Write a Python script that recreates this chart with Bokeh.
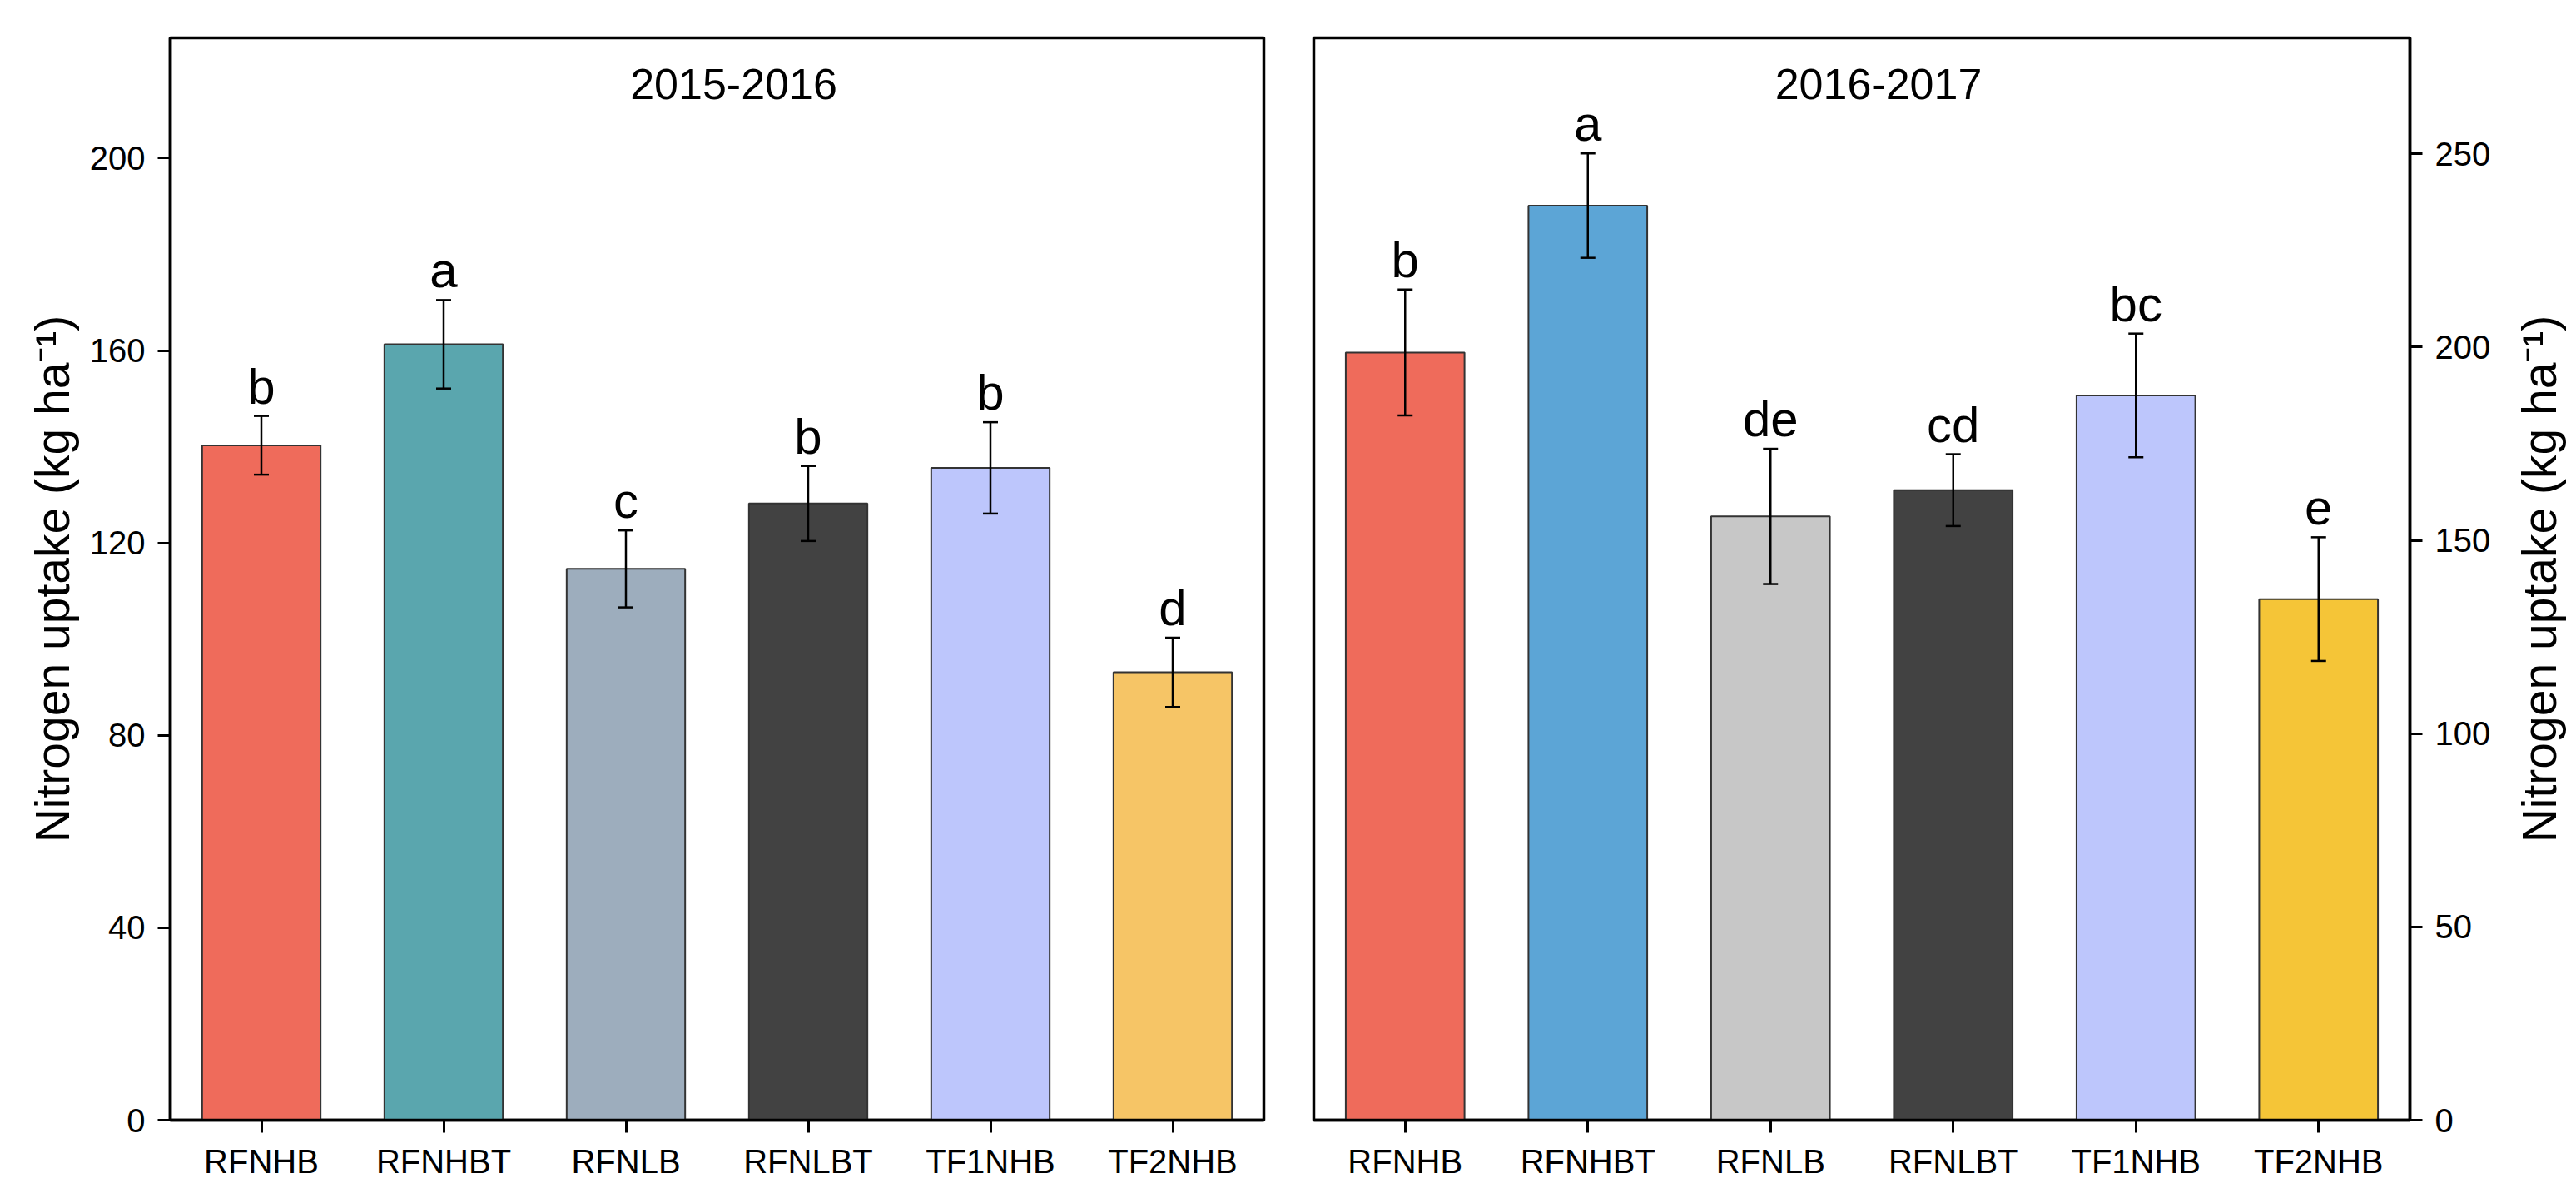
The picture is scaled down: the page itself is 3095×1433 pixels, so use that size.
import math
from bokeh.plotting import figure
from bokeh.layouts import row
from bokeh.models import (ColumnDataSource, Range1d, FactorRange, FixedTicker,
                          Whisker, TeeHead, LabelSet, Label)
from bokeh.core.properties import value
from bokeh.embed import file_html
from bokeh.resources import INLINE

# ---------------- data ----------------
categories = ["RFNHB", "RFNHBT", "RFNLB", "RFNLBT", "TF1NHB", "TF2NHB"]

uptake_2015 = [140.3, 161.3, 114.6, 128.2, 135.6, 93.1]
error_2015 = [6.1, 9.2, 8.0, 7.8, 9.5, 7.2]
letters_2015 = ["b", "a", "c", "b", "b", "d"]
colors_2015 = ["#EF6B5B", "#5AA6AE", "#9DADBD", "#424242", "#BDC6FC", "#F6C566"]

uptake_2016 = [198.6, 236.6, 156.2, 163.0, 187.5, 134.8]
error_2016 = [16.3, 13.5, 17.5, 9.3, 16.0, 16.0]
letters_2016 = ["b", "a", "de", "cd", "bc", "e"]
colors_2016 = ["#EF6B5B", "#5CA5D6", "#C7C7C7", "#424242", "#BDC6FC", "#F5C537"]

ticks_2015 = [0, 40, 80, 120, 160, 200]
ticks_2016 = [0, 50, 100, 150, 200, 250]
ymax_2015 = 225
ymax_2016 = 280

titles = ["2015-2016", "2016-2017"]
y_label = "Nitrogen uptake (kg ha\u207B\u00B9)"

FONT = "Liberation Sans"
FRAME_H = 1300
TOP = 45
BOTTOM = 80


def make_panel(title, vals, errs, letters, colors, ticks, ymax, side, frame_w,
               bl, br, with_label):
    src = ColumnDataSource(dict(
        cats=categories, vals=vals, colors=colors, letters=letters,
        upper=[v + e for v, e in zip(vals, errs)],
        lower=[v - e for v, e in zip(vals, errs)],
    ))
    p = figure(x_range=FactorRange(*categories, range_padding=0),
               y_range=Range1d(0, ymax),
               width=bl + frame_w + br, height=TOP + FRAME_H + BOTTOM,
               min_border_left=bl, min_border_right=br,
               min_border_top=TOP, min_border_bottom=BOTTOM,
               y_axis_location=side, toolbar_location=None,
               output_backend="svg")
    p.background_fill_color = "white"
    p.border_fill_color = "white"
    p.outline_line_color = "black"
    p.outline_line_width = 3.5
    p.xgrid.visible = False
    p.ygrid.visible = False

    p.vbar(x="cats", top="vals", width=0.65, bottom=0, fill_color="colors",
           line_color="#333333", line_width=2, source=src)

    w = Whisker(source=src, base="cats", upper="upper", lower="lower",
                line_color="black", line_width=2.5, level="overlay",
                upper_head=TeeHead(size=18, line_color="black", line_width=2.5),
                lower_head=TeeHead(size=18, line_color="black", line_width=2.5))
    p.add_layout(w)

    lab = LabelSet(source=src, x="cats", y="upper", text="letters",
                   y_offset=15, text_align="center", text_baseline="alphabetic",
                   text_font=value(FONT), text_font_size=value("60px"),
                   text_color=value("black"), level="overlay")
    p.add_layout(lab)

    p.add_layout(Label(x=frame_w / 2, y=FRAME_H - 55, x_units="screen",
                       y_units="screen", x_offset=20, text=title,
                       text_align="center", text_baseline="alphabetic",
                       text_font=FONT, text_font_size="52px",
                       text_color="black"))

    for ax in p.axis:
        ax.axis_line_width = 3.5
        ax.axis_line_color = "black"
        ax.major_tick_in = 0
        ax.major_tick_out = 15
        ax.major_tick_line_width = 3
        ax.major_tick_line_color = "black"
        ax.minor_tick_in = 0
        ax.minor_tick_out = 0
        ax.major_label_text_font = FONT
        ax.major_label_text_font_size = "40px"
        ax.major_label_text_color = "black"
        ax.major_label_standoff = 15
    p.yaxis.ticker = FixedTicker(ticks=ticks)
    p.xaxis.major_label_standoff = 12

    if with_label:
        yax = p.yaxis[0]
        yax.axis_label = y_label
        yax.axis_label_text_font = FONT
        yax.axis_label_text_font_size = "57px"
        yax.axis_label_text_font_style = "normal"
        yax.axis_label_text_color = "black"
        yax.axis_label_standoff = 10
    return p


p1 = make_panel(titles[0], uptake_2015, error_2015, letters_2015, colors_2015,
                ticks_2015, ymax_2015, "left", 1314, 204, 30, True)
p2 = make_panel(titles[1], uptake_2016, error_2016, letters_2016, colors_2016,
                ticks_2016, ymax_2016, "right", 1317, 30, 115, False)

# narrow strip holding the right-hand axis title (reads bottom-to-top)
p3 = figure(width=80, height=TOP + FRAME_H + BOTTOM,
            x_range=Range1d(0, 1), y_range=Range1d(0, 1),
            min_border_left=0, min_border_right=0,
            min_border_top=TOP, min_border_bottom=BOTTOM,
            x_axis_location=None, y_axis_location=None,
            toolbar_location=None, output_backend="svg")
p3.outline_line_color = None
p3.xgrid.visible = False
p3.ygrid.visible = False
p3.background_fill_color = "white"
p3.border_fill_color = "white"
p3.add_layout(Label(x=40, y=FRAME_H / 2, x_units="screen", y_units="screen",
                    text=y_label, angle=math.pi / 2, angle_units="rad",
                    text_align="center", text_baseline="alphabetic",
                    text_font=FONT, text_font_size="57px",
                    text_color="black"))

layout = row(p1, p2, p3, spacing=0)
open("out.html", "w").write(file_html(layout, INLINE))
